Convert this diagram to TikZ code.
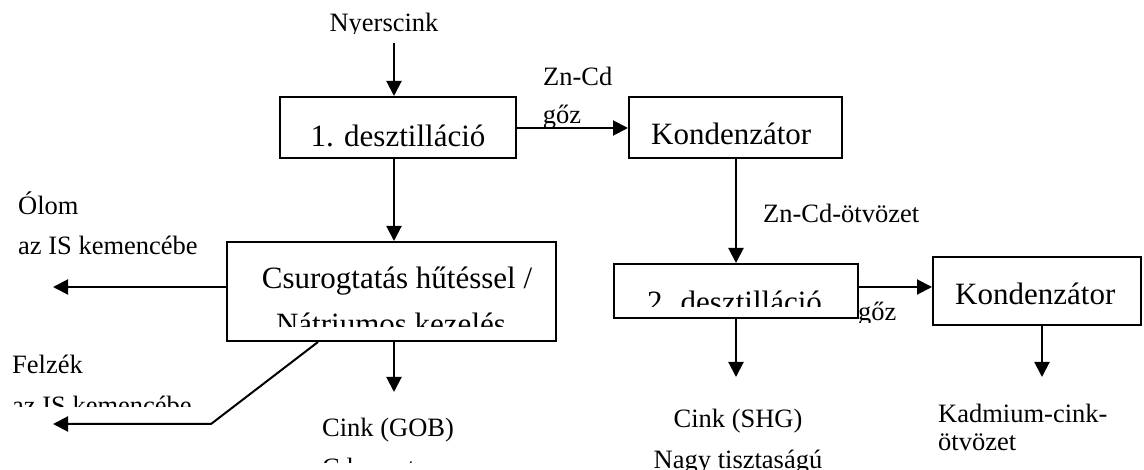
\documentclass[tikz,border=0pt]{standalone}
\usepackage{fontspec}
\setmainfont{Liberation Serif}
\usetikzlibrary{arrows.meta}
\tikzset{
  box/.style={draw, line width=2pt, inner sep=0pt},
  big/.style={font=\fontsize{31}{46}\selectfont, inner sep=0pt},
  small/.style={font=\fontsize{26.5}{40}\selectfont, inner sep=0pt},
  arr/.style={line width=2pt, -{Triangle[length=15pt,width=15pt]}},
  plain/.style={line width=2pt}
}
\begin{document}
\begin{tikzpicture}[x=1pt,y=-1pt]
\useasboundingbox (0,0) rectangle (1144,470);

% process boxes
\node[box, minimum width=236pt, minimum height=61pt] (dest1) at (398,127.5) {};
\node[box, minimum width=213pt, minimum height=61pt] (kond1) at (735.5,127.5) {};
\node[box, minimum width=329pt, minimum height=99pt] (csur) at (391.5,291.5) {};
\node[box, minimum width=244pt, minimum height=54pt] (dest2) at (736,291) {};
\node[box, minimum width=208pt, minimum height=68pt] (kond2) at (1037,291) {};

% box captions
\node[big, anchor=base] (t1) at (398,147) {1. desztilláció};
\node[big, anchor=base west] (tk1) at (651,145) {Kondenzátor};
\node[big, anchor=base west] (tk2) at (955,305) {Kondenzátor};
\begin{scope}
  \clip (230,244) rectangle (553,327);
  \node[big, anchor=base] (tc1) at (397,289) {Csurogtatás hűtéssel /};
  \node[big, anchor=base] (tc2) at (391,335) {Nátriumos kezelés};
\end{scope}
\begin{scope}
  \clip (616,266) rectangle (856,307);
  \node[big, anchor=base] (t2) at (734.5,313) {2. desztilláció};
\end{scope}

% stream labels
\begin{scope}
  \clip (300,0) rectangle (470,34);
  \node[small, anchor=base] (nyer) at (384,32) {Nyerscink};
\end{scope}
\node[small, anchor=base west] (zncd) at (543,86) {Zn-Cd};
\begin{scope}
  \clip (530,100) rectangle (600,126.5);
  \node[small, anchor=base] (goz1) at (562,124) {gőz};
\end{scope}
\node[small, anchor=base west] (znot) at (763,223) {Zn-Cd-ötvözet};
\begin{scope}
  \clip (850,300) rectangle (920,323);
  \node[small, anchor=base west] (goz2) at (858,321) {gőz};
\end{scope}
\node[small, anchor=base west] (olom) at (18,215) {Ólom};
\node[small, anchor=base west] (olomis) at (18,255) {az IS kemencébe};
\node[small, anchor=base west] (felz) at (12,374) {Felzék};
\begin{scope}
  \clip (0,385) rectangle (250,407);
  \node[small, anchor=base west] (felzis) at (12,415) {az IS kemencébe};
\end{scope}
\node[small, anchor=base west] (gob) at (322,436) {Cink (GOB)};
\begin{scope}
  \clip (300,440) rectangle (500,462);
  \node[small, anchor=base west] (cdm) at (322,476) {Cd-mentes};
\end{scope}
\node[small, anchor=base] (shg) at (738,428) {Cink (SHG)};
\node[small, anchor=base] (nagy) at (738,468) {Nagy tisztaságú};
\node[small, anchor=base west] (kad) at (938,423) {Kadmium-cink-};
\node[small, anchor=base west] (otv) at (938,450) {ötvözet};

% helper points
\coordinate (colA) at (394,0);
\coordinate (colB) at (736,0);
\coordinate (nyin) at (394,43);
\coordinate (olomend) at (53,287);
\coordinate (felzstart) at (318,0);
\coordinate (felzbend) at (211,424);
\coordinate (felzend) at (53,424);
\coordinate (gobend) at (394,392);
\coordinate (shgend) at (736,377);
\coordinate (kadend) at (1042,377);

% flows
\draw[arr] (nyin) -- (colA |- dest1.north);
\draw[arr] (dest1.east |- 0,128) -- (kond1.west |- 0,128);
\draw[arr] (colA |- dest1.south) -- (colA |- csur.north);
\draw[arr] (colB |- kond1.south) -- (colB |- dest2.north);
\draw[arr] (csur.west |- 0,287) -- (olomend);
\draw[arr] (colA |- csur.south) -- (gobend);
\draw[arr] (felzstart |- csur.south) -- (felzbend) -- (felzend);
\draw[arr] (colB |- dest2.south) -- (shgend);
\draw[arr] (dest2.east |- 0,287) -- (kond2.west |- 0,287);
\draw[arr] (kond2.south -| kadend) -- (kadend);
\end{tikzpicture}
\end{document}
